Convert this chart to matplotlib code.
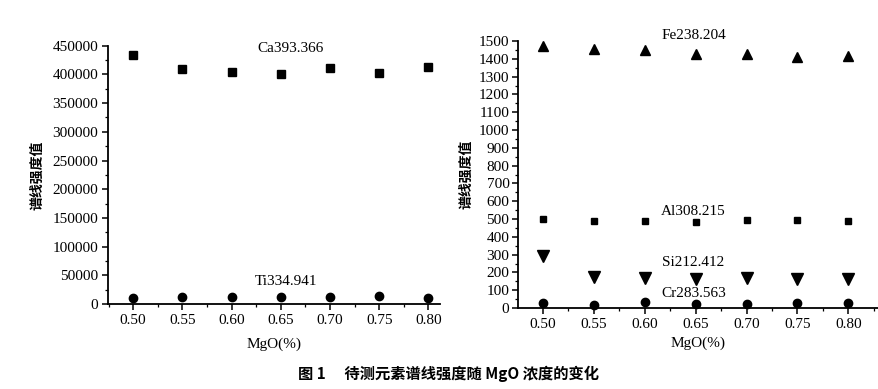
import numpy as np
from matplotlib import pyplot as plt
from matplotlib.ticker import MultipleLocator

plt.rcParams['font.family'] = ['Liberation Serif', 'Noto Sans CJK SC']

mgo = [0.50, 0.55, 0.60, 0.65, 0.70, 0.75, 0.80]
xticks = ["0.50", "0.55", "0.60", "0.65", "0.70", "0.75", "0.80"]

# left panel
ca = [434000, 409500, 404500, 400000, 412000, 402500, 413000]
ti = [10000, 13000, 12500, 12500, 12500, 14000, 10500]

# right panel
fe = [1474, 1455, 1448, 1427, 1429, 1412, 1416]
al = [501, 491, 488, 482, 497, 497, 491]
si = [293, 172, 166, 163, 170, 163, 163]
cr = [28, 17, 35, 22, 22, 26, 26]

ylab = "谱线强度值"

fig = plt.figure(figsize=(8.79, 3.89), dpi=100)
ax1 = fig.add_axes([0.1229, 0.2185, 0.378, 0.664])
ax2 = fig.add_axes([0.589, 0.2082, 0.411, 0.6864])


def style(ax, lp):
    for s in ["top", "right"]:
        ax.spines[s].set_visible(False)
    for s in ["left", "bottom"]:
        ax.spines[s].set_linewidth(1.3)
    ax.tick_params(direction="out", width=1.1, length=4, labelsize=11, pad=3)
    ax.tick_params(which="minor", direction="out", width=0.9, length=2.5)
    ax.xaxis.set_minor_locator(MultipleLocator(0.025))
    ax.set_xticks(mgo)
    ax.set_xticklabels(xticks)
    ax.set_xlabel("MgO(%)", fontsize=11, labelpad=lp)


style(ax1, 8)
ax1.plot(mgo, ca, "s", color="black", markersize=5.5, clip_on=False)
ax1.plot(mgo, ti, "o", color="black", markersize=6, clip_on=False)
ax1.set_xlim(0.4745, 0.812)
ax1.set_ylim(0, 450000)
ax1.set_yticks(np.arange(0, 450001, 50000))
ax1.yaxis.set_minor_locator(MultipleLocator(25000))
ax1.text(0.66, 445000, "Ca393.366", ha="center", va="center", fontsize=11)
ax1.text(0.655, 40000, "Ti334.941", ha="center", va="center", fontsize=11)
ax1.set_ylabel(ylab, fontsize=10, fontweight="bold", family="Noto Sans CJK SC", labelpad=6)

style(ax2, 4)
ax2.plot(mgo, fe, "^", color="black", markersize=7, clip_on=False)
ax2.plot(mgo, al, "s", color="black", markersize=5, clip_on=False)
ax2.plot(mgo, si, "v", color="black", markersize=8, clip_on=False)
ax2.plot(mgo, cr, "o", color="black", markersize=6, clip_on=False)
ax2.set_xlim(0.4755, 0.83)
ax2.set_ylim(0, 1500)
ax2.set_yticks(np.arange(0, 1501, 100))
ax2.yaxis.set_minor_locator(MultipleLocator(50))
ax2.tick_params(axis="y", pad=2)
ax2.text(0.648, 1530, "Fe238.204", ha="center", va="center", fontsize=11)
ax2.text(0.648, 540, "Al308.215", ha="center", va="center", fontsize=11)
ax2.text(0.648, 253, "Si212.412", ha="center", va="center", fontsize=11)
ax2.text(0.648, 84, "Cr283.563", ha="center", va="center", fontsize=11)
ax2.set_ylabel(ylab, fontsize=10, fontweight="bold", family="Noto Sans CJK SC", labelpad=4)

fig.text(0.51, 0.038, "图 1　 待测元素谱线强度随 MgO 浓度的变化", ha="center", va="center",
         fontsize=11, fontweight="bold", family=["Noto Sans CJK SC", "Liberation Serif"])

fig.savefig("out.png", dpi=100)
